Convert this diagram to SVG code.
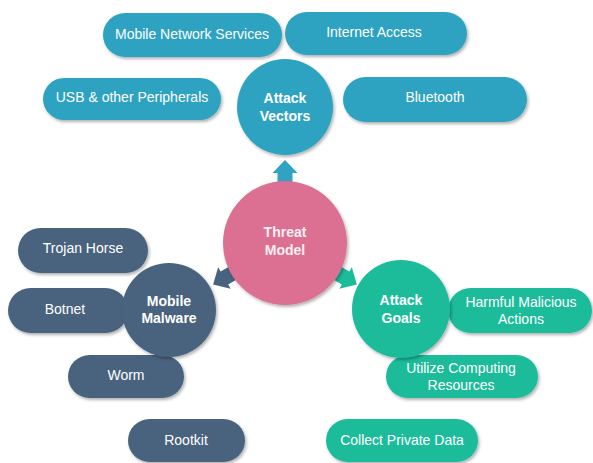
<svg xmlns="http://www.w3.org/2000/svg" width="593" height="463" viewBox="0 0 593 463">
<defs>
<filter id="sh" x="-20%" y="-20%" width="140%" height="150%">
<feDropShadow dx="1.5" dy="2" stdDeviation="1.5" flood-color="#000" flood-opacity="0.3"/>
</filter>
<polygon id="arr" points="0,-83 12.5,-70 7.5,-70 7.5,-55 -7.5,-55 -7.5,-70 -12.5,-70"/>
</defs>
<style>
text{font-family:"Liberation Sans",Arial,sans-serif;font-size:14px;fill:#fff;text-anchor:middle;dominant-baseline:central}
.b{font-weight:bold}
.blue{fill:#2FA3C1}
.pink{fill:#DC7092}
.slate{fill:#48637F}
.green{fill:#1CBC9B}
.s{filter:url(#sh)}
</style>
<rect width="593" height="463" fill="#fff"/>
<g id="connectors">
<use href="#arr" class="blue" transform="translate(285,243)"/>
<use href="#arr" class="slate" transform="translate(285,243) rotate(-120)"/>
<use href="#arr" class="green" transform="translate(285,243) rotate(120)"/>
</g>
<g id="mobile-network-services"><rect class="blue s" x="103" y="13" width="179" height="44" rx="22"/><text x="192" y="34">Mobile Network Services</text></g>
<g id="internet-access"><rect class="blue s" x="285" y="12" width="182" height="43" rx="21.5"/><text x="374" y="32">Internet Access</text></g>
<g id="usb"><rect class="blue s" x="43" y="78" width="178" height="42" rx="21"/><text x="132" y="97">USB &amp; other Peripherals</text></g>
<g id="bluetooth"><rect class="blue s" x="343" y="77" width="184" height="45" rx="22.5"/><text x="435" y="97">Bluetooth</text></g>
<g id="attack-vectors"><circle class="blue s" cx="285" cy="107" r="48"/><text class="b" x="285" y="98">Attack</text><text class="b" x="285" y="116">Vectors</text></g>
<g id="threat-model"><circle class="pink s" cx="285" cy="243" r="62"/><text class="b" x="285" y="232" style="fill:#fdeef3">Threat</text><text class="b" x="285" y="250" style="fill:#fdeef3">Model</text></g>
<g id="trojan-horse"><rect class="slate s" x="18" y="228" width="130" height="45" rx="22.5"/><text x="83" y="248">Trojan Horse</text></g>
<g id="botnet"><rect class="slate s" x="8" y="288" width="120" height="45" rx="22.5"/><text x="65" y="309">Botnet</text></g>
<g id="worm"><rect class="slate s" x="68" y="355" width="116" height="43" rx="21.5"/><text x="126" y="375">Worm</text></g>
<g id="rootkit"><rect class="slate s" x="128" y="419" width="117" height="43" rx="21.5"/><text x="186" y="440">Rootkit</text></g>
<g id="mobile-malware"><circle class="slate s" cx="169" cy="310" r="47"/><text class="b" x="169" y="301">Mobile</text><text class="b" x="169" y="318">Malware</text></g>
<g id="harmful-malicious-actions"><rect class="green s" x="448" y="288" width="144" height="45" rx="22.5"/><text x="521" y="302">Harmful Malicious</text><text x="521" y="319">Actions</text></g>
<g id="utilize-computing-resources"><rect class="green s" x="386" y="355" width="152" height="43" rx="21.5"/><text x="461" y="368">Utilize Computing</text><text x="461" y="385">Resources</text></g>
<g id="collect-private-data"><rect class="green s" x="326" y="419" width="152" height="43" rx="21.5"/><text x="402" y="440">Collect Private Data</text></g>
<g id="attack-goals"><circle class="green s" cx="401" cy="309" r="49"/><text class="b" x="401" y="300">Attack</text><text class="b" x="401" y="318">Goals</text></g>
</svg>
